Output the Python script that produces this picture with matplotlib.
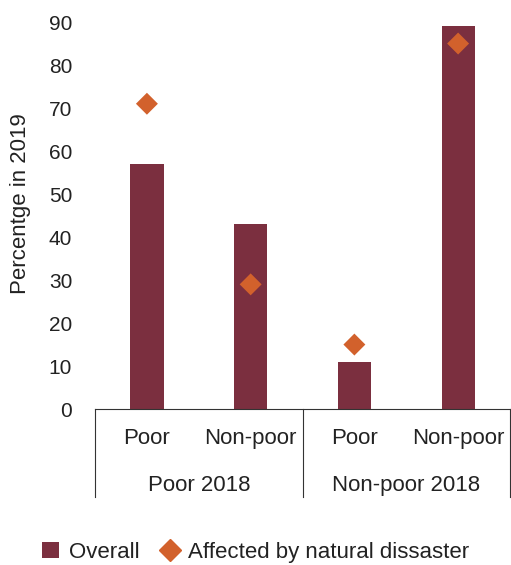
import matplotlib.pyplot as plt
from matplotlib.lines import Line2D
from matplotlib.patches import Patch

plt.rcParams["font.family"] = ["Liberation Sans", "DejaVu Sans"]

groups = ["Poor 2018", "Non-poor 2018"]
categories = ["Poor", "Non-poor", "Poor", "Non-poor"]
overall = [57, 43, 11, 89]
affected = [71, 29, 15, 85]

BAR_COLOR = "#7B2F3F"
DIAMOND_COLOR = "#D2612C"
TEXT_COLOR = "#222222"

fig = plt.figure(figsize=(5.11, 5.65), dpi=100)
ax = fig.add_axes([0.186, 0.276, 0.812, 0.685])

x = list(range(len(categories)))
ax.bar(x, overall, width=0.32, color=BAR_COLOR, zorder=2)
ax.scatter(x, affected, marker="D", s=125, color=DIAMOND_COLOR, zorder=3,
           edgecolors="none")

ax.set_xlim(-0.5, 3.5)
ax.set_ylim(0, 90)
ax.set_yticks(range(0, 91, 10))
ax.tick_params(axis="y", length=0, pad=16.5, labelsize=15, labelcolor=TEXT_COLOR)
ax.set_xticks([])
for side in ["left", "right", "top"]:
    ax.spines[side].set_visible(False)
ax.spines["bottom"].set_color("#333333")
ax.spines["bottom"].set_linewidth(0.8)

# category labels and group labels below the axis
trans = ax.get_xaxis_transform()
for xi, lab in zip(x, categories):
    ax.text(xi, -0.077, lab, transform=trans, ha="center", va="center",
            fontsize=16, color=TEXT_COLOR, clip_on=False)
for gi, g in enumerate(groups):
    ax.text(gi * 2 + 0.5, -0.198, g, transform=trans, ha="center", va="center",
            fontsize=16, color=TEXT_COLOR, clip_on=False)
for sx in [-0.5, 1.5, 3.5]:
    ax.add_line(Line2D([sx, sx], [0, -0.227], transform=trans, color="#333333",
                       linewidth=0.8, clip_on=False))

fig.text(0.04, 0.64, "Percentge in 2019", rotation=90, ha="center", va="center",
         fontsize=16, color=TEXT_COLOR)

handles = [
    Patch(facecolor=BAR_COLOR, edgecolor="none", label="Overall"),
    Line2D([], [], marker="D", linestyle="none", markersize=11,
           color=DIAMOND_COLOR, label="Affected by natural dissaster"),
]
fig.legend(handles=handles, loc="center", bbox_to_anchor=(0.5, 0.022), ncol=2,
           frameon=False, fontsize=16, handlelength=0.75, handleheight=0.75,
           handletextpad=0.45, columnspacing=1.0, labelcolor=TEXT_COLOR,
           borderpad=0)

fig.savefig("out.png", dpi=100)
